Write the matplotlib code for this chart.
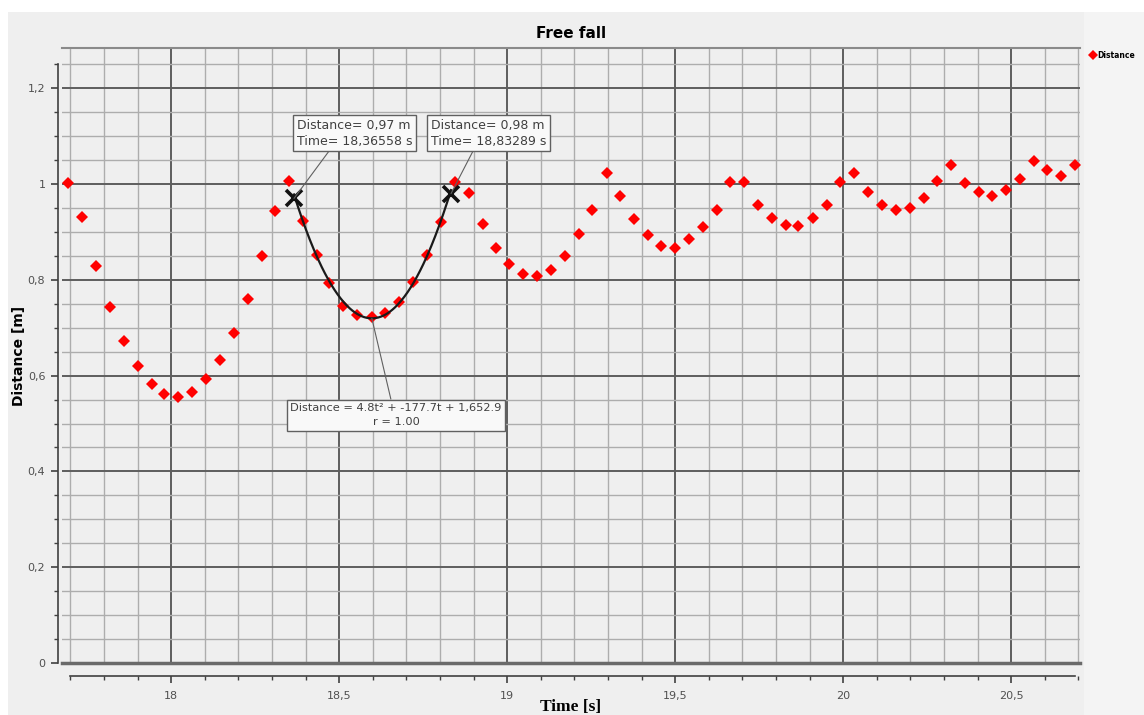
import matplotlib as mpl
mpl.use("Agg")
import matplotlib.pyplot as plt
from matplotlib.ticker import MultipleLocator, FuncFormatter
from matplotlib.patches import Rectangle
from matplotlib.lines import Line2D
import numpy as np

mpl.rcParams.update({
    "font.family": "DejaVu Sans",
    "font.size": 8,
})

# measured samples (time in s, distance in m)
time_s = [
    17.693, 17.735, 17.777, 17.818, 17.860, 17.902, 17.943, 17.979, 18.021, 18.063,
    18.104, 18.146, 18.188, 18.229, 18.271, 18.310, 18.351, 18.393, 18.435, 18.470,
    18.512, 18.554, 18.598, 18.637, 18.679, 18.720, 18.762, 18.804, 18.845, 18.887,
    18.929, 18.967, 19.006, 19.048, 19.089, 19.131, 19.173, 19.214, 19.253, 19.298,
    19.336, 19.378, 19.420, 19.458, 19.500, 19.542, 19.583, 19.625, 19.664, 19.705,
    19.747, 19.789, 19.830, 19.866, 19.911, 19.952, 19.991, 20.033, 20.074, 20.116,
    20.158, 20.199, 20.241, 20.280, 20.321, 20.363, 20.405, 20.443, 20.485, 20.527,
    20.568, 20.607, 20.649, 20.690,
]
distance_m = [
    1.002, 0.931, 0.829, 0.743, 0.672, 0.620, 0.582, 0.562, 0.555, 0.566,
    0.593, 0.633, 0.689, 0.760, 0.850, 0.944, 1.006, 0.923, 0.852, 0.793,
    0.745, 0.727, 0.722, 0.731, 0.754, 0.795, 0.852, 0.921, 1.004, 0.981,
    0.916, 0.866, 0.833, 0.812, 0.808, 0.820, 0.850, 0.896, 0.946, 1.023,
    0.975, 0.927, 0.894, 0.871, 0.866, 0.885, 0.910, 0.946, 1.004, 1.004,
    0.956, 0.929, 0.914, 0.912, 0.929, 0.956, 1.004, 1.023, 0.983, 0.956,
    0.946, 0.950, 0.971, 1.006, 1.040, 1.002, 0.983, 0.975, 0.987, 1.010,
    1.048, 1.029, 1.017, 1.040,
]

# cursor readings
cursor_t = [18.36558, 18.83289]
cursor_d = [0.97, 0.98]
cursor_labels = ["Distance= 0,97 m\nTime= 18,36558 s",
                 "Distance= 0,98 m\nTime= 18,83289 s"]
fit_label = "Distance = 4.8t\u00b2 + -177.7t + 1,652.9\nr = 1.00"

t = np.array(time_s)
d = np.array(distance_m)

fig = plt.figure(figsize=(11.44, 7.15), dpi=100, facecolor="white")
# grey panel background with white strip top/left
fig.patches.append(Rectangle((8 / 1144, 0), 1, (715 - 12) / 715,
                             transform=fig.transFigure, fc="#efefef", ec="none", zorder=-10))
fig.patches.append(Rectangle((1084 / 1144, 0), 1, (715 - 12) / 715,
                             transform=fig.transFigure, fc="#f4f4f4", ec="none", zorder=-9))

ax = fig.add_axes([62 / 1144, 52 / 715, (1080 - 62) / 1144, (663 - 48) / 715])
ax.set_facecolor("#efefef")
ax.set_xlim(17.675, 20.705)
ax.set_ylim(0, 1.284)

ax.xaxis.set_major_locator(MultipleLocator(0.5))
ax.xaxis.set_minor_locator(MultipleLocator(0.1))
ax.yaxis.set_major_locator(MultipleLocator(0.2))
ax.yaxis.set_minor_locator(MultipleLocator(0.05))
comma = FuncFormatter(lambda v, p: ("%g" % round(v, 6)).replace(".", ","))
ax.xaxis.set_major_formatter(comma)
ax.yaxis.set_major_formatter(comma)

ax.set_axisbelow(True)
ax.grid(which="major", color="#5e5e5e", lw=1.4)
ax.grid(which="minor", color="#adadad", lw=1.0)
ax.axhline(0, color="#6a6a6a", lw=2.5, clip_on=False, zorder=1)

ax.spines["right"].set_visible(False)
ax.spines["top"].set_color("#8a8a8a")
ax.spines["top"].set_linewidth(1.5)
ax.spines["bottom"].set_position(("outward", 9))
ax.spines["bottom"].set_bounds(17.7, 20.69)
ax.spines["left"].set_position(("outward", 3))
ax.spines["left"].set_bounds(0, 1.25)
for s in ["bottom", "left"]:
    ax.spines[s].set_color("#404040")
    ax.spines[s].set_linewidth(1.2)

ax.tick_params(which="both", direction="out", color="#404040", labelcolor="#505050",
               labelsize=8)
ax.tick_params(which="major", length=5, width=1.2)
ax.tick_params(which="minor", length=3, width=1.0)
ax.tick_params(axis="x", which="major", pad=6)
ax.tick_params(axis="y", which="major", pad=4)

ax.set_title("Free fall", fontweight="bold", fontsize=11, pad=7)
ax.set_ylabel("Distance [m]", fontweight="bold", fontsize=10, labelpad=1)
ax.set_xlabel("Time [s]", fontweight="bold", fontsize=12.5, family="Liberation Serif",
              labelpad=-1)

# data points
ax.plot(t, d, linestyle="none", marker="D", markersize=6.5, color="#ff0000",
        markeredgewidth=0, label="Distance", zorder=3)

# quadratic fit over cursor window
win = (t >= cursor_t[0]) & (t <= cursor_t[1])
coef = np.polyfit(t[win], d[win], 2)
tt = np.linspace(cursor_t[0], cursor_t[1], 200)
ax.plot(tt, np.polyval(coef, tt), color="#1a1a1a", lw=1.6, zorder=4)

ax.plot(cursor_t, cursor_d, linestyle="none", marker="x", markersize=12,
        markeredgewidth=2.6, color="#111111", zorder=5)

box = dict(boxstyle="square,pad=0.3", fc="#f9f9f9", ec="#606060", lw=1)
text_pos = [(297, 715 - 119), (431, 715 - 119)]
rel = [(0.3, 0), (0.38, 0)]
for i in range(2):
    ax.annotate(cursor_labels[i], xy=(cursor_t[i], cursor_d[i]), xytext=text_pos[i],
                textcoords="figure pixels", ha="left", va="top", fontsize=9,
                linespacing=1.25, color="#404040", bbox=box, zorder=6,
                arrowprops=dict(arrowstyle="-", color="#606060", lw=0.8,
                                relpos=rel[i], shrinkA=0, shrinkB=0))

tv = -coef[1] / (2 * coef[0])
ax.annotate(fit_label, xy=(tv, np.polyval(coef, tv)), xytext=(396, 715 - 403),
            textcoords="figure pixels", ha="center", va="top", multialignment="center",
            fontsize=8.2, linespacing=1.55, color="#404040", bbox=box, zorder=6,
            arrowprops=dict(arrowstyle="-", color="#606060", lw=0.8,
                            relpos=(0.48, 1), shrinkA=0, shrinkB=0))

handle = Line2D([], [], linestyle="none", marker="D", markersize=5.5, color="#ff0000",
                markeredgewidth=0)
fig.legend([handle], ["Distance"], loc="upper left",
           bbox_to_anchor=(1090 / 1144, 1 - 51 / 715), frameon=False,
           prop={"weight": "bold", "size": 5.5}, handlelength=0.7, handletextpad=0.3,
           borderpad=0, borderaxespad=0)

fig.savefig("out.png", dpi=100, facecolor=fig.get_facecolor())
